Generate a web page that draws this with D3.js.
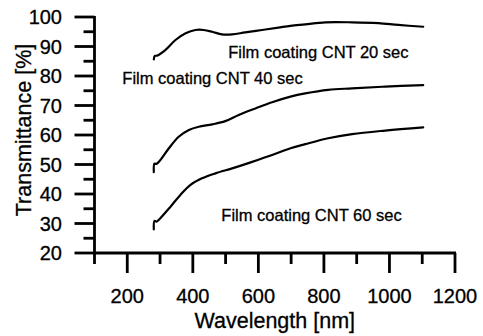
<!DOCTYPE html>
<html>
<head>
<meta charset="utf-8">
<script src="https://cdn.jsdelivr.net/npm/d3@7"></script>
<style>
  html, body { margin: 0; padding: 0; background: #fff; }
  svg { display: block; }
  text { font-family: "Liberation Sans", Arial, Helvetica, sans-serif; fill: #000; stroke: #000; stroke-width: 0.3px; }
</style>
</head>
<body>
<svg id="chart" width="483" height="336"></svg>
<script>
// ---- data ----
const wl20 = [281, 284, 291, 316, 347, 378, 408, 433, 459, 489, 520, 560, 611, 661, 698, 743, 804, 886, 966, 1027, 1103];
const t20  = [85.6, 86.8, 86.9, 88.8, 92.2, 94.5, 95.6, 95.6, 95.0, 94.1, 94.1, 94.8, 95.6, 96.4, 97.0, 97.5, 98.2, 98.2, 97.9, 97.3, 96.7];

const wl40 = [281, 283, 289, 301, 327, 357, 388, 418, 459, 499, 540, 591, 642, 698, 743, 813, 886, 987, 1103];
const t40  = [47.4, 50.3, 50.2, 51.5, 55.5, 59.4, 61.7, 62.8, 63.6, 64.7, 66.8, 69.0, 71.1, 73.0, 74.1, 75.3, 75.8, 76.4, 76.9];

const wl60 = [281, 283, 289, 301, 332, 362, 393, 428, 469, 520, 581, 642, 698, 743, 813, 886, 987, 1103];
const t60  = [28.0, 30.9, 30.6, 31.8, 35.7, 39.7, 43.1, 45.3, 47.0, 48.7, 50.9, 53.2, 55.5, 56.9, 58.9, 60.3, 61.5, 62.6];

const seriesLabels = ["Film coating CNT 20 sec", "Film coating CNT 40 sec", "Film coating CNT 60 sec"];
const labelWl = [508, 185, 487];
const labelT  = [86.1, 77.3, 30.8];

const xMajorTicks = [200, 400, 600, 800, 1000, 1200];
const xMinorTicks = [100, 300, 500, 700, 900, 1100];
const yMajorTicks = [20, 30, 40, 50, 60, 70, 80, 90, 100];
const yMinorTicks = [25, 35, 45, 55, 65, 75, 85, 95];

const xTitle = "Wavelength [nm]";
const yTitle = "Transmittance [%]";

// ---- layout ----
const svg = d3.select("#chart");
const x = d3.scaleLinear().domain([100, 1200]).range([94.5, 455]);
const y = d3.scaleLinear().domain([20, 100]).range([253, 17]);

const axisW = 2.8;

// y axis ticks
const gy = svg.append("g");
gy.selectAll("line.ymaj").data(yMajorTicks).join("line")
  .attr("x1", x(100) - 20).attr("x2", x(100))
  .attr("y1", d => y(d)).attr("y2", d => y(d))
  .attr("stroke", "#000").attr("stroke-width", axisW);
gy.selectAll("line.ymin").data(yMinorTicks).join("line")
  .attr("x1", x(100) - 11).attr("x2", x(100))
  .attr("y1", d => y(d)).attr("y2", d => y(d))
  .attr("stroke", "#000").attr("stroke-width", axisW);
gy.selectAll("text").data(yMajorTicks).join("text")
  .attr("x", 62).attr("y", d => y(d)).attr("dy", "0.36em")
  .attr("text-anchor", "end").attr("font-size", 20)
  .text(d => d);

// x axis ticks
const gx = svg.append("g");
gx.selectAll("line.xmaj").data(xMajorTicks).join("line")
  .attr("x1", d => x(d)).attr("x2", d => x(d))
  .attr("y1", y(20)).attr("y2", y(20) + 20)
  .attr("stroke", "#000").attr("stroke-width", axisW);
gx.selectAll("line.xmin").data(xMinorTicks).join("line")
  .attr("x1", d => x(d)).attr("x2", d => x(d))
  .attr("y1", y(20)).attr("y2", y(20) + 11)
  .attr("stroke", "#000").attr("stroke-width", axisW);
gx.selectAll("text").data(xMajorTicks).join("text")
  .attr("x", d => x(d)).attr("y", 303)
  .attr("text-anchor", "middle").attr("font-size", 20)
  .text(d => d);

// axis lines
svg.append("line")
  .attr("x1", x(100)).attr("x2", x(100))
  .attr("y1", y(100) - 1).attr("y2", y(20) + 1)
  .attr("stroke", "#000").attr("stroke-width", axisW);
svg.append("line")
  .attr("x1", x(100) - 1).attr("x2", x(1200) + 1)
  .attr("y1", y(20)).attr("y2", y(20))
  .attr("stroke", "#000").attr("stroke-width", axisW);

// titles
svg.append("text")
  .attr("x", (x(100) + x(1200)) / 2).attr("y", 328)
  .attr("text-anchor", "middle").attr("font-size", 21.5)
  .text(xTitle);
svg.append("text")
  .attr("transform", `translate(31,${(y(20) + y(100)) / 2 - 5}) rotate(-90)`)
  .attr("text-anchor", "middle").attr("font-size", 21.5)
  .text(yTitle);

// curves
const line = d3.line()
  .x(d => x(d[0])).y(d => y(d[1]))
  .curve(d3.curveCatmullRom.alpha(0.5));
const series = [
  d3.zip(wl20, t20),
  d3.zip(wl40, t40),
  d3.zip(wl60, t60)
];
svg.append("g").selectAll("path").data(series).join("path")
  .attr("d", line)
  .attr("fill", "none").attr("stroke", "#000").attr("stroke-width", 2.2)
  .attr("stroke-linejoin", "round").attr("stroke-linecap", "round");

// annotations
svg.append("g").selectAll("text").data(seriesLabels).join("text")
  .attr("x", (d, i) => x(labelWl[i]))
  .attr("y", (d, i) => y(labelT[i]))
  .attr("font-size", 16.5)
  .text(d => d);
</script>
</body>
</html>
